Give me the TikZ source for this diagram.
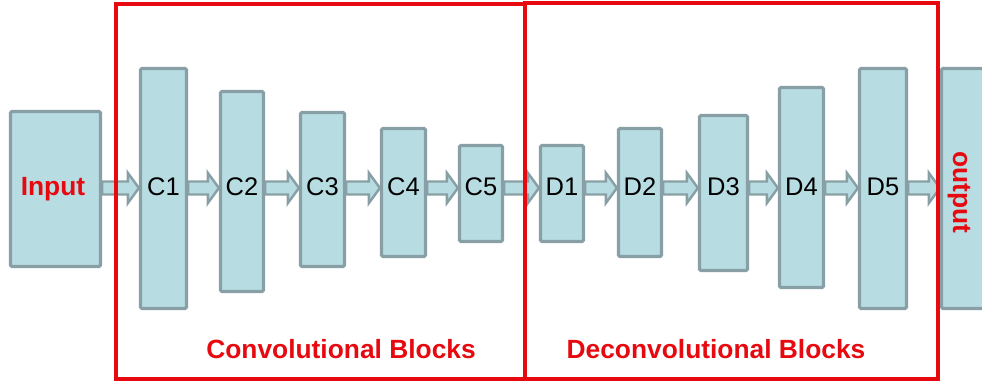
\documentclass[tikz,border=0pt]{standalone}
\usepackage{fontspec}
\setmainfont{Liberation Sans}
\usepackage{xcolor}
\usetikzlibrary{calc}

\definecolor{boxfill}{RGB}{183,221,227}
\definecolor{boxline}{RGB}{136,160,165}
\definecolor{framered}{RGB}{230,10,16}

\begin{document}
\begin{tikzpicture}[x=0.02cm, y=-0.02cm,
  layer/.style={draw=boxline, fill=boxfill, line width=1.8pt, rounded corners=0.8pt, inner sep=0pt},
  size/.style 2 args={minimum width=#1*0.02cm, minimum height=#2*0.02cm},
  tag/.style={font=\fontsize{14.5}{16}\selectfont, text height=1.7ex, text depth=0pt},
  redtag/.style={font=\fontsize{15}{18}\selectfont\bfseries, text=framered, text height=1.7ex, text depth=0pt},
  flow/.style={draw=boxline, fill=boxfill, line width=1.4pt, line join=miter},
  block/.style={draw=framered, line width=2pt}]
\useasboundingbox (0,0) rectangle (982,381);
% input and output
\node[layer, size={90}{155}] (in) at (55.5,189) {};
\node[layer, size={47}{240}] (out) at (965,188.5) {};
% convolutional layers
\node[layer, size={46}{240}] (c1) at (163.5,188.5) {};
\node[layer, size={43}{200}] (c2) at (242,191.5) {};
\node[layer, size={44}{154}] (c3) at (322.5,189.5) {};
\node[layer, size={44}{128}] (c4) at (403.5,192.5) {};
\node[layer, size={43}{96}] (c5) at (481,193.5) {};
% deconvolutional layers
\node[layer, size={43}{96}] (d1) at (562,193.5) {};
\node[layer, size={43}{128}] (d2) at (640,192.5) {};
\node[layer, size={48}{155}] (d3) at (723.5,193) {};
\node[layer, size={44}{200}] (d4) at (801.5,187.5) {};
\node[layer, size={47}{240}] (d5) at (883,188.5) {};
% arrows
\foreach \a/\b in {in/c1, c1/c2, c2/c3, c3/c4, c4/c5, c5/d1, d1/d2, d2/d3, d3/d4, d4/d5, d5/out}
  \draw[flow] let \p1=(\a.east |- 0,188), \p2=(\b.west |- 0,188) in
    (\x1,\y1+0.13cm) -- (\x2-0.22cm,\y1+0.13cm) -- (\x2-0.22cm,\y1+0.3cm) -- (\x2,\y1)
    -- (\x2-0.22cm,\y1-0.3cm) -- (\x2-0.22cm,\y1-0.13cm) -- (\x1,\y1-0.13cm) -- cycle;
% labels
\node[redtag] (intext) at (53,188) {Input};
\node[redtag, rotate=-90] (outtext) at (961,192) {output};
\foreach \n/\t in {c1/C1, c2/C2, c3/C3, c4/C4, c5/C5, d1/D1, d2/D2, d3/D3, d4/D4, d5/D5}
  \node[tag] (\n text) at (\n |- 0,188) {\t};
% blocks
\draw[block] (116,4) rectangle (525,379);
\draw[block] (525,3) rectangle (938,379);
\node[redtag] (convtext) at (341,351) {Convolutional Blocks};
\node[redtag] (deconvtext) at (716,351) {Deconvolutional Blocks};
\end{tikzpicture}
\end{document}
